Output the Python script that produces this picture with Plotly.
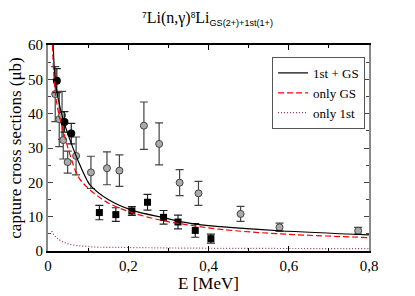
import plotly.graph_objects as go

# curves
curve_x_tot = [0.013, 0.0175, 0.025, 0.038, 0.055, 0.076, 0.097, 0.105, 0.15, 0.209, 0.288, 0.355, 0.43, 0.576, 0.8]
curve_y_tot = [60, 50.3, 44.5, 38.2, 32.3, 26.0, 20.7, 19.2, 15.0, 11.9, 9.7, 8.05, 7.1, 5.9, 4.7]
curve_x_gs = [0.011, 0.0175, 0.025, 0.038, 0.055, 0.076, 0.105, 0.15, 0.209, 0.288, 0.355, 0.43, 0.576, 0.8]
curve_y_gs = [60, 47.0, 41.0, 35.0, 28.0, 21.5, 17.8, 14.0, 11.2, 8.8, 7.5, 6.3, 5.0, 3.9]
curve_x_1st = [0.009, 0.02, 0.047, 0.105, 0.22, 0.4, 0.8]
curve_y_1st = [5.8, 4.0, 2.2, 1.25, 1.0, 0.8, 0.7]

# black filled circles
bc_x = [0.022, 0.041, 0.058]
bc_y = [49.6, 37.6, 34.2]
bc_err = [3.5, 3.0, 3.0]

# black squares
sq_x = [0.128, 0.169, 0.209, 0.248, 0.288, 0.324, 0.367, 0.406]
sq_y = [11.2, 10.6, 11.65, 14.2, 9.8, 8.45, 6.0, 3.6]
sq_err = [2.1, 2.0, 1.3, 2.3, 2.0, 2.0, 2.0, 1.3]

# grey circles
gc_x = [0.018, 0.028, 0.035, 0.038, 0.049, 0.07, 0.107, 0.147, 0.178, 0.239, 0.277, 0.328, 0.375, 0.48, 0.577, 0.773]
gc_y = [45.7, 38.4, 39.5, 32.3, 25.9, 27.7, 22.9, 24.1, 23.4, 36.5, 31.2, 19.9, 16.8, 10.8, 6.9, 5.9]
gc_err = [8.0, 8.0, 7.0, 5.5, 3.2, 5.5, 4.7, 4.8, 4.6, 6.9, 6.1, 3.8, 3.5, 2.2, 1.2, 1.0]

x_tickvals = [0, 0.2, 0.4, 0.6, 0.8]
x_ticktext = ["0", "0,2", "0,4", "0,6", "0,8"]
y_tickvals = [0, 10, 20, 30, 40, 50, 60]

serif = "Liberation Serif"
sans = "Liberation Sans"

fig = go.Figure()

fig.add_trace(go.Scatter(
    x=gc_x, y=gc_y, mode="markers", showlegend=False,
    error_y=dict(type="data", array=gc_err, color="#444", thickness=1.2, width=4),
    marker=dict(symbol="circle", size=7, color="#aaaaaa", line=dict(color="#444", width=1)),
))
fig.add_trace(go.Scatter(
    x=sq_x, y=sq_y, mode="markers", showlegend=False,
    error_y=dict(type="data", array=sq_err, color="#222", thickness=1.2, width=4),
    marker=dict(symbol="square", size=7, color="black"),
))
fig.add_trace(go.Scatter(
    x=bc_x, y=bc_y, mode="markers", showlegend=False,
    error_y=dict(type="data", array=bc_err, color="#222", thickness=1.2, width=4),
    marker=dict(symbol="circle", size=8, color="black"),
))
fig.add_trace(go.Scatter(x=curve_x_tot, y=curve_y_tot, mode="lines", name="1st + GS",
                         line=dict(color="black", width=1.2, shape="spline")))
fig.add_trace(go.Scatter(x=curve_x_gs, y=curve_y_gs, mode="lines", name="only GS",
                         line=dict(color="#ff0000", width=1.2, dash="6px,3px", shape="spline")))
fig.add_trace(go.Scatter(x=curve_x_1st, y=curve_y_1st, mode="lines", name="only 1st",
                         line=dict(color="#993366", width=1.2, dash="1px,2px", shape="spline")))

title_txt = ("<span style='font-family:Liberation Sans;font-size:12px'><sup>7</sup></span>Li(n,γ)"
             "<span style='font-family:Liberation Sans;font-size:12px'><sup>8</sup></span>Li"
             "<span style='font-family:Liberation Sans;font-size:13px'><sub>GS(2+)+1st(1+)</sub></span>")

fig.update_layout(
    width=415, height=296,
    margin=dict(l=48, r=46, t=45, b=45, autoexpand=False),
    paper_bgcolor="white", plot_bgcolor="white",
    title=dict(text=title_txt, x=0.5, xanchor="center", y=0.94, yanchor="middle",
               font=dict(family=serif, size=16, color="black"), automargin=False),
    font=dict(family=serif, size=15, color="black"),
    legend=dict(x=0.698, y=0.942, xanchor="left", yanchor="top",
                bgcolor="white", bordercolor="#555", borderwidth=1,
                font=dict(family=serif, size=13), tracegroupgap=0,
                itemwidth=30),
    xaxis=dict(range=[0, 0.8], tickvals=x_tickvals, ticktext=x_ticktext,
               ticks="inside", ticklen=5, tickcolor="black", automargin=False,
               minor=dict(tickvals=[0.1, 0.3, 0.5, 0.7], ticks="inside", ticklen=3, tickcolor="black"),
               showgrid=False, zeroline=False, showline=True, linecolor="black", linewidth=1.5,
               mirror="allticks",
               title=dict(text="E [MeV]", font=dict(family=serif, size=17), standoff=0),
               tickfont=dict(family=serif, size=15)),
    yaxis=dict(range=[0, 60], tickvals=y_tickvals, automargin=False,
               ticks="inside", ticklen=5, tickcolor="#444",
               minor=dict(tickvals=[5, 15, 25, 35, 45, 55], ticks="inside", ticklen=3, tickcolor="#444"),
               showgrid=False, zeroline=False, showline=True, linecolor="#888", linewidth=2,
               mirror="allticks",
               title=dict(text="capture cross sections (μb)", font=dict(family=serif, size=17), standoff=2),
               tickfont=dict(family=serif, size=15)),
)

fig.write_html("out.html", config={"displayModeBar": False},
               post_script="document.body.style.margin='0';document.body.style.overflow='hidden';")
